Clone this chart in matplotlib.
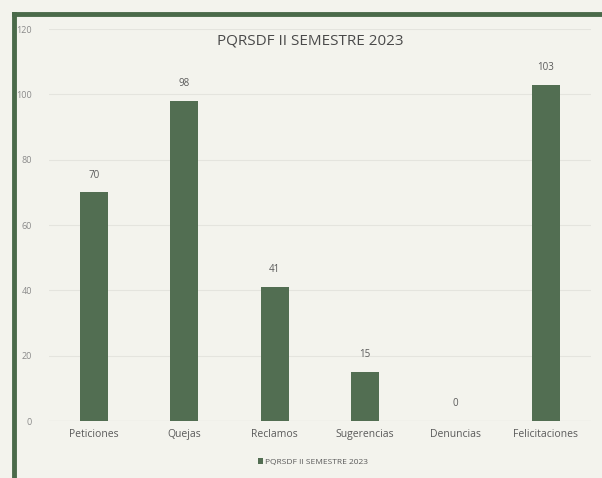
import matplotlib
matplotlib.use("Agg")
import matplotlib.pyplot as plt
from matplotlib.lines import Line2D

categories = ["Peticiones", "Quejas", "Reclamos", "Sugerencias", "Denuncias", "Felicitaciones"]
values = [70, 98, 41, 15, 0, 103]
yticks = [0, 20, 40, 60, 80, 100, 120]
title = "PQRSDF II SEMESTRE 2023"

bg = "#f3f3ed"
bar_color = "#526e52"
text_color = "#5a5a5a"

plt.rcParams['font.family'] = ['Open Sans', 'DejaVu Sans']
fig = plt.figure(figsize=(6.02, 4.78), dpi=100, facecolor=bg)
ax = fig.add_axes([0.081, 0.119, 0.901, 0.820], facecolor=bg)

x = range(len(categories))
bars = ax.bar(x, values, width=0.31, color=bar_color, zorder=3, label=title)
for xi, v in zip(x, values):
    ax.text(xi, v + 3.6, str(v), ha="center", va="bottom", fontsize=7, color=text_color)

ax.set_ylim(0, 120)
ax.set_xlim(-0.5, len(categories) - 0.5)
ax.set_yticks(yticks)
ax.set_yticklabels([str(t) for t in yticks], fontsize=6.5, color="#8a8a8a")
ax.set_xticks(list(x))
ax.set_xticklabels(categories, fontsize=7.5, color=text_color)
ax.tick_params(axis="y", length=0, pad=12)
ax.tick_params(axis="x", length=0, pad=6)
ax.grid(axis="y", color="#e4e4de", linewidth=0.8, zorder=0)
for s in ax.spines.values():
    s.set_visible(False)
ax.axhline(0, color="#d8d8d2", linewidth=0.8, zorder=2)

fig.text(0.515, 0.915, title, ha="center", va="center", fontsize=11, color="#4a4a4a")

leg = fig.legend(handles=[bars], labels=[title], loc="center", bbox_to_anchor=(0.52, 0.033),
                 frameon=False, fontsize=6, handlelength=0.6, handleheight=0.6,
                 handletextpad=0.3, labelcolor=text_color)

fig.add_artist(Line2D([0.023, 1.0], [0.971, 0.971], transform=fig.transFigure,
                      color="#4a6a4a", linewidth=3.5))
fig.add_artist(Line2D([0.023, 0.023], [0.0, 0.971], transform=fig.transFigure,
                      color="#4a6a4a", linewidth=3.5))

fig.savefig("out.png", dpi=100, facecolor=bg)
